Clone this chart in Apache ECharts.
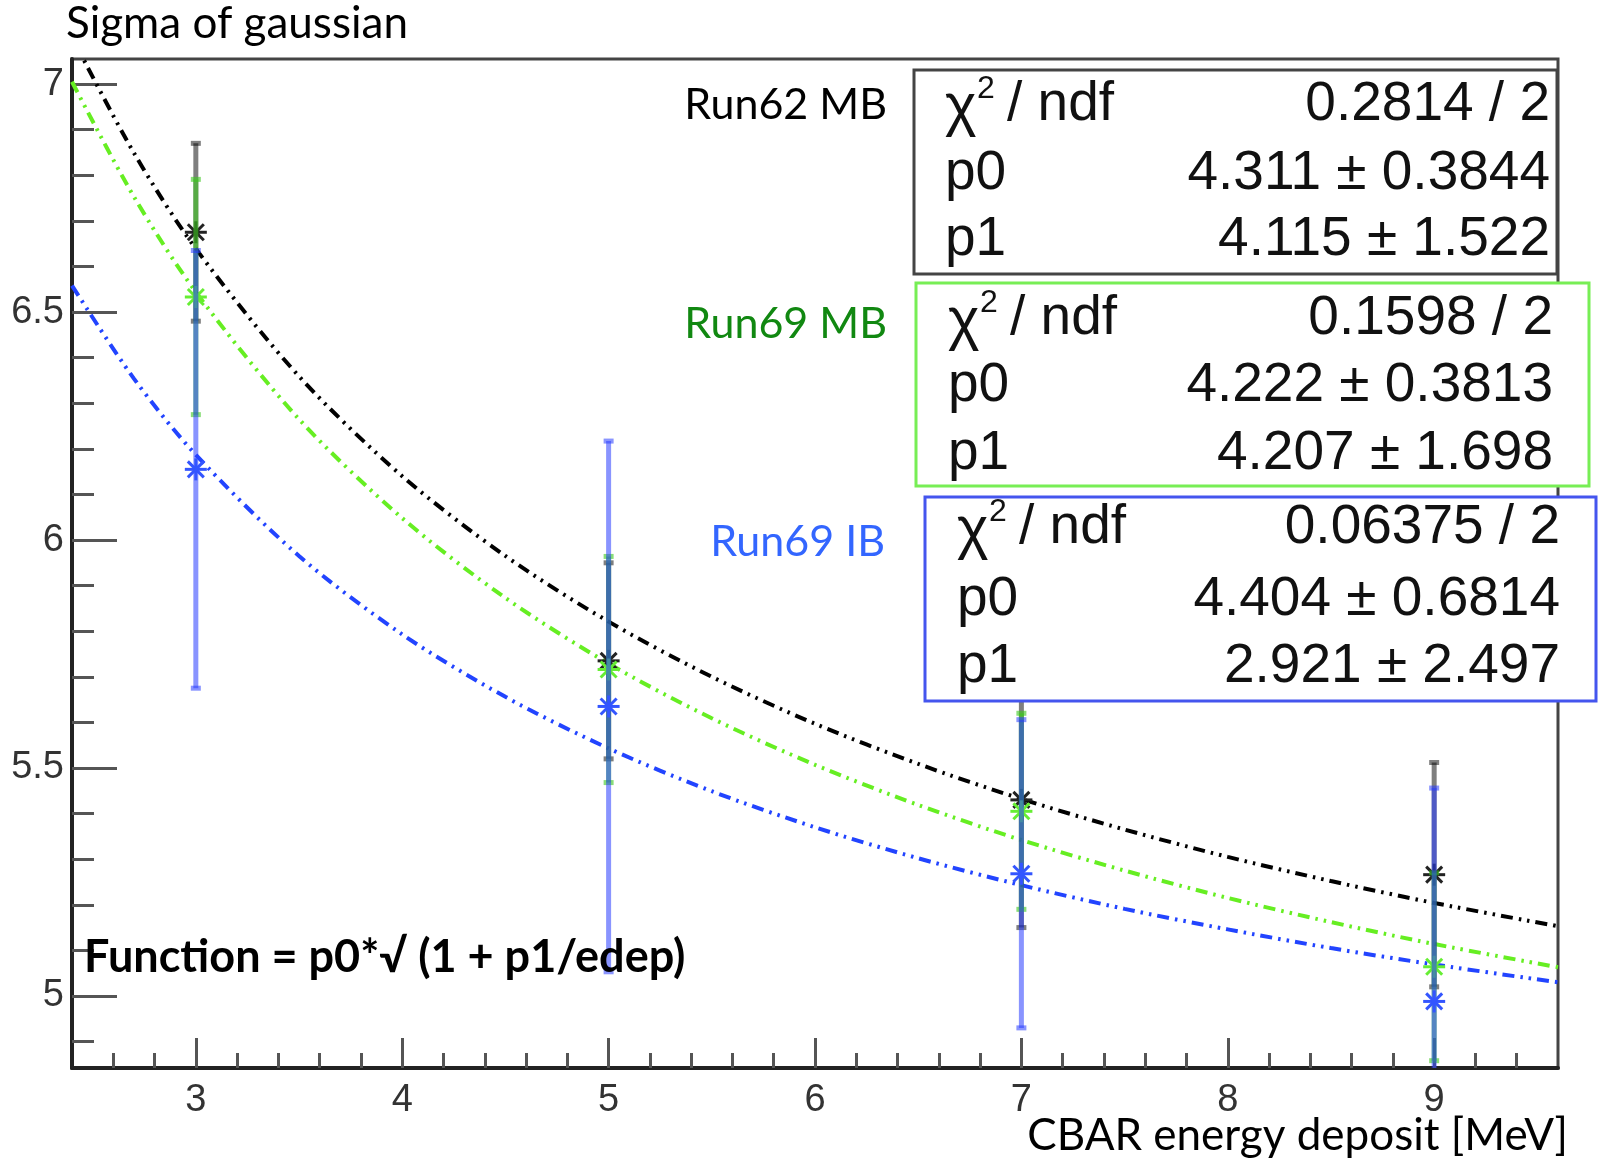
<!DOCTYPE html>
<html>
<head>
<meta charset="utf-8">
<script src="https://cdn.jsdelivr.net/npm/echarts@6/dist/echarts.min.js"></script>
<style>
html,body{margin:0;padding:0;background:#fff;}
#chart{width:1602px;height:1162px;}
</style>
</head>
<body>
<div id="chart"></div>
<script>
// ---- data ----
const energies = [3, 5, 7, 9];
const run62MB_sigma = [6.675, 5.735, 5.430, 5.266];
const run62MB_err   = [0.195, 0.215, 0.280, 0.246];
const run69MB_sigma = [6.533, 5.716, 5.405, 5.064];
const run69MB_err   = [0.258, 0.248, 0.215, 0.206];
const run69IB_sigma = [6.155, 5.635, 5.268, 4.988];
const run69IB_err   = [0.480, 0.582, 0.338, 0.468];

// fitted curves
const fitX      = [2.4, 2.7, 3, 3.5, 4, 4.5, 5, 5.5, 6, 6.5, 7, 7.5, 8, 8.5, 9, 9.6];
const run62Fit  = [7.103, 6.849, 6.639, 6.359, 6.140, 5.965, 5.821, 5.700, 5.597, 5.509, 5.432, 5.365, 5.305, 5.252, 5.204, 5.153];
const run69MFit = [7.005, 6.753, 6.544, 6.265, 6.048, 5.873, 5.729, 5.609, 5.507, 5.419, 5.342, 5.275, 5.215, 5.162, 5.114, 5.063];
const run69IFit = [6.558, 6.354, 6.187, 5.965, 5.793, 5.656, 5.543, 5.449, 5.370, 5.302, 5.243, 5.191, 5.146, 5.105, 5.069, 5.030];

// axis ticks
const xMajorTicks = [3, 4, 5, 6, 7, 8, 9];
const xMinorTicks = [2.6, 2.8, 3.2, 3.4, 3.6, 3.8, 4.2, 4.4, 4.6, 4.8, 5.2, 5.4, 5.6, 5.8, 6.2, 6.4, 6.6, 6.8, 7.2, 7.4, 7.6, 7.8, 8.2, 8.4, 8.6, 8.8, 9.2, 9.4];
const yMajorTicks = [5, 5.5, 6, 6.5, 7];
const yMinorTicks = [4.9, 5.1, 5.2, 5.3, 5.4, 5.6, 5.7, 5.8, 5.9, 6.1, 6.2, 6.3, 6.4, 6.6, 6.7, 6.8, 6.9];

// text
const seriesNames = ['Run62 MB', 'Run69 MB', 'Run69 IB'];
const statNames = ['p0', 'p1'];
const run62Stats = ['0.2814 / 2', '4.311 \u00b1 0.3844', '4.115 \u00b1 1.522'];
const run69MStats = ['0.1598 / 2', '4.222 \u00b1 0.3813', '4.207 \u00b1 1.698'];
const run69IStats = ['0.06375 / 2', '4.404 \u00b1 0.6814', '2.921 \u00b1 2.497'];

const chart = echarts.init(document.getElementById('chart'), null, {renderer: 'canvas'});

function pairs(xs, ys) { return xs.map((x, i) => [x, ys[i]]); }
function triples(xs, ys, es) { return xs.map((x, i) => [x, ys[i], es[i]]); }

function errRender(barColor, markColor) {
  return function (params, api) {
    const x = api.value(0), y = api.value(1), e = api.value(2);
    const top = api.coord([x, y + e]);
    const bot = api.coord([x, y - e]);
    const c = api.coord([x, y]);
    const r = 11, d = 8;
    return {
      type: 'group',
      children: [
        {type: 'line', shape: {x1: top[0], y1: top[1], x2: bot[0], y2: bot[1]}, style: {stroke: barColor, lineWidth: 5}},
        {type: 'line', shape: {x1: top[0] - 5, y1: top[1], x2: top[0] + 5, y2: top[1]}, style: {stroke: barColor, lineWidth: 5}},
        {type: 'line', shape: {x1: bot[0] - 5, y1: bot[1], x2: bot[0] + 5, y2: bot[1]}, style: {stroke: barColor, lineWidth: 5}},
        {type: 'line', shape: {x1: c[0] - r, y1: c[1], x2: c[0] + r, y2: c[1]}, style: {stroke: markColor, lineWidth: 3}},
        {type: 'line', shape: {x1: c[0], y1: c[1] - r, x2: c[0], y2: c[1] + r}, style: {stroke: markColor, lineWidth: 3}},
        {type: 'line', shape: {x1: c[0] - d, y1: c[1] - d, x2: c[0] + d, y2: c[1] + d}, style: {stroke: markColor, lineWidth: 3}},
        {type: 'line', shape: {x1: c[0] - d, y1: c[1] + d, x2: c[0] + d, y2: c[1] - d}, style: {stroke: markColor, lineWidth: 3}}
      ]
    };
  };
}

const dashPattern = [12, 6, 2.5, 6, 2.5, 6];
const labelFont = 'Liberation Sans, Arial, sans-serif';
const titleFont = 'Lato, Open Sans, sans-serif';

function statBox(x, y, w, h, color, stats, lx, rx, rows) {
  const els = [{
    type: 'rect', z: 100,
    shape: {x: x, y: y, width: w, height: h},
    style: {fill: '#fff', stroke: color, lineWidth: 3}
  }];
  // chi2 / ndf label
  els.push({type: 'text', z: 101, style: {x: lx, y: y + rows[0] + 3, text: '\u03c7', font: '60px ' + labelFont, fill: '#111', textVerticalAlign: 'middle'}});
  els.push({type: 'text', z: 101, style: {x: lx + 32, y: y + rows[0] - 16, text: '2', font: '32px ' + labelFont, fill: '#111', textVerticalAlign: 'middle'}});
  els.push({type: 'text', z: 101, style: {x: lx + 62, y: y + rows[0], text: '/ ndf', font: '55px ' + labelFont, fill: '#111', textVerticalAlign: 'middle'}});
  for (let i = 0; i < 2; i++) {
    els.push({type: 'text', z: 101, style: {x: lx, y: y + rows[i + 1], text: statNames[i], font: '55px ' + labelFont, fill: '#111', textVerticalAlign: 'middle'}});
  }
  for (let i = 0; i < 3; i++) {
    els.push({type: 'text', z: 101, style: {x: rx, y: y + rows[i], text: stats[i], font: '55px ' + labelFont, fill: '#111', textAlign: 'right', textVerticalAlign: 'middle'}});
  }
  return els;
}

const graphics = []
  .concat(statBox(914, 70, 643, 204, '#444444', run62Stats, 945, 1550, [35, 104, 170]))
  .concat(statBox(916, 283, 673, 203, '#77ee55', run69MStats, 948, 1553, [36, 103, 171]))
  .concat(statBox(925, 497, 671, 204, '#4455ee', run69IStats, 957, 1560, [31, 103, 170]))
  .concat([
    {type: 'text', z: 101, style: {x: 66, y: 24, text: 'Sigma of gaussian', font: '44px ' + titleFont, fill: '#000', textVerticalAlign: 'middle'}},
    {type: 'text', z: 101, style: {x: 1568, y: 1136, text: 'CBAR energy deposit [MeV]', font: '44px ' + titleFont, fill: '#000', textAlign: 'right', textVerticalAlign: 'middle'}},
    {type: 'text', z: 101, style: {x: 84, y: 957, text: 'Function = p0*\u221a (1 + p1/edep)', font: 'bold 45px ' + titleFont, fill: '#000', textVerticalAlign: 'middle'}},
    {type: 'text', z: 101, style: {x: 887, y: 105, text: seriesNames[0], font: '43px ' + titleFont, fill: '#000', textAlign: 'right', textVerticalAlign: 'middle'}},
    {type: 'text', z: 101, style: {x: 887, y: 324, text: seriesNames[1], font: '43px ' + titleFont, fill: '#118811', textAlign: 'right', textVerticalAlign: 'middle'}},
    {type: 'text', z: 101, style: {x: 885, y: 542, text: seriesNames[2], font: '43px ' + titleFont, fill: '#3366ff', textAlign: 'right', textVerticalAlign: 'middle'}}
  ]);

const option = {
  animation: false,
  backgroundColor: '#fff',
  grid: {left: 72, top: 59, right: 44, bottom: 94, show: true, borderColor: '#444', borderWidth: 3, backgroundColor: 'transparent'},
  xAxis: [
    {
      type: 'value', min: 2.4, max: 9.6, position: 'bottom',
      axisLine: {show: true, onZero: false, lineStyle: {color: '#222', width: 4}},
      axisTick: {show: true, inside: true, length: 30, customValues: xMajorTicks, lineStyle: {color: '#555', width: 3}},
      axisLabel: {show: true, customValues: xMajorTicks, fontSize: 38, fontFamily: labelFont, color: '#333', margin: 14},
      splitLine: {show: false}
    },
    {
      type: 'value', min: 2.4, max: 9.6, position: 'bottom', offset: 0,
      axisLine: {show: false},
      axisTick: {show: true, inside: true, length: 15, customValues: xMinorTicks, lineStyle: {color: '#555', width: 3}},
      axisLabel: {show: false},
      splitLine: {show: false}
    }
  ],
  yAxis: [
    {
      type: 'value', min: 4.842, max: 7.055, position: 'left',
      axisLine: {show: true, onZero: false, lineStyle: {color: '#222', width: 4}},
      axisTick: {show: true, inside: true, length: 45, customValues: yMajorTicks, lineStyle: {color: '#555', width: 3}},
      axisLabel: {show: true, customValues: yMajorTicks, fontSize: 38, fontFamily: labelFont, color: '#333', margin: 8},
      splitLine: {show: false}
    },
    {
      type: 'value', min: 4.842, max: 7.055, position: 'left', offset: 0,
      axisLine: {show: false},
      axisTick: {show: true, inside: true, length: 22, customValues: yMinorTicks, lineStyle: {color: '#555', width: 3}},
      axisLabel: {show: false},
      splitLine: {show: false}
    }
  ],
  series: [
    {type: 'line', name: 'fit62', data: pairs(fitX, run62Fit), smooth: 0.3, showSymbol: false, clip: true, z: 3,
     lineStyle: {color: '#000', width: 4, type: dashPattern}},
    {type: 'line', name: 'fit69M', data: pairs(fitX, run69MFit), smooth: 0.3, showSymbol: false, clip: true, z: 3,
     lineStyle: {color: '#66ee22', width: 4, type: dashPattern}},
    {type: 'line', name: 'fit69I', data: pairs(fitX, run69IFit), smooth: 0.3, showSymbol: false, clip: true, z: 3,
     lineStyle: {color: '#2244ff', width: 4, type: dashPattern}},
    {type: 'custom', name: seriesNames[0], data: triples(energies, run62MB_sigma, run62MB_err), clip: true, z: 4,
     renderItem: errRender('rgba(0,0,0,0.5)', '#222')},
    {type: 'custom', name: seriesNames[1], data: triples(energies, run69MB_sigma, run69MB_err), clip: true, z: 5,
     renderItem: errRender('rgba(60,200,30,0.6)', '#66ee33')},
    {type: 'custom', name: seriesNames[2], data: triples(energies, run69IB_sigma, run69IB_err), clip: true, z: 6,
     renderItem: errRender('rgba(40,60,255,0.55)', '#3355ff')}
  ],
  graphic: graphics
};
chart.setOption(option);
</script>
</body>
</html>
